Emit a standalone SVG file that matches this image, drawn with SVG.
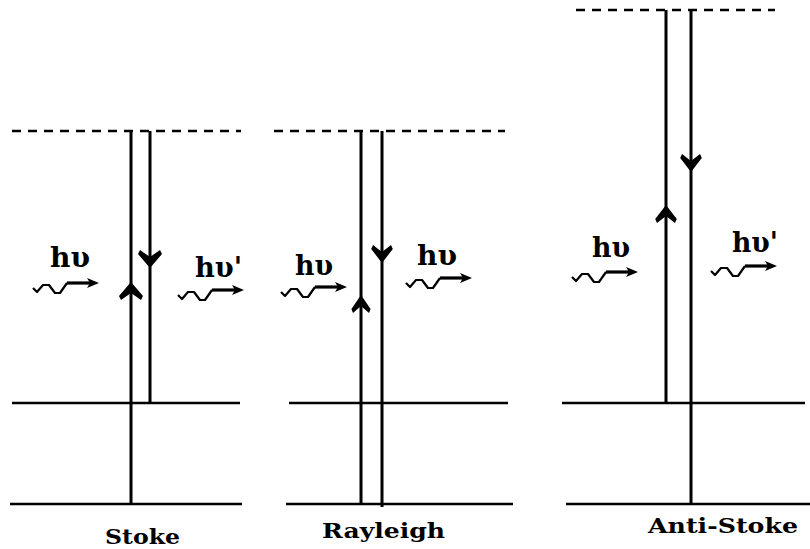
<svg xmlns="http://www.w3.org/2000/svg" xmlns:xlink="http://www.w3.org/1999/xlink" width="810" height="549" viewBox="0 0 810 549">
<style>
.lvl{stroke:#000;stroke-width:2.5;fill:none}
.dash{stroke:#000;stroke-width:2.5;stroke-dasharray:9,7;fill:none}
.tr{stroke:#000;stroke-width:3;fill:none}
.wv{stroke:#000;stroke-width:2.2;fill:none;stroke-linejoin:round}
.st{stroke:#000;stroke-width:3.2;fill:none}
.hd{fill:#000}
.sym{font-family:"DejaVu Serif","Liberation Serif",serif;font-weight:bold;font-size:27px;fill:#000}
.lab{font-family:"DejaVu Serif","Liberation Serif",serif;font-weight:bold;font-size:20px;fill:#000}
</style>
<defs>
<path id="ah" d="M0,0 L-12,14 L-10,18 L0,11 L10,18 L12,14 Z"/>
<g id="wavy">
<path class="wv" d="M0,0 L4,4 L10,-3 L16,-3 L22,5 L27,5 L34,-5"/>
<line class="st" x1="34" y1="-5" x2="58" y2="-5"/>
<polygon class="hd" points="66,-5 54,-10 57,-5 54,0"/>
</g>
</defs>
<rect width="810" height="549" fill="#fff"/>

<g id="stoke">
<line class="dash" x1="12" y1="131" x2="241" y2="131"/>
<line class="lvl" x1="12" y1="403" x2="240" y2="403"/>
<line class="lvl" x1="10" y1="504" x2="242" y2="504"/>
<text class="sym" x="50" y="267" textLength="40" lengthAdjust="spacingAndGlyphs">hυ</text>
<text class="sym" x="195" y="277" textLength="47" lengthAdjust="spacingAndGlyphs">hυ'</text>
<text class="lab" x="105" y="544" textLength="75" lengthAdjust="spacingAndGlyphs">Stoke</text>
</g>

<g id="rayleigh">
<line class="dash" x1="274" y1="131" x2="505" y2="131"/>
<line class="lvl" x1="289" y1="403" x2="508" y2="403"/>
<line class="lvl" x1="286" y1="504" x2="513" y2="504"/>
<text class="sym" x="295" y="275" textLength="38" lengthAdjust="spacingAndGlyphs">hυ</text>
<text class="sym" x="417" y="265" textLength="40" lengthAdjust="spacingAndGlyphs">hυ</text>
<text class="lab" x="322" y="538" textLength="123" lengthAdjust="spacingAndGlyphs">Rayleigh</text>
</g>

<g id="antistoke">
<line class="dash" x1="576" y1="10" x2="775" y2="10"/>
<line class="lvl" x1="562" y1="403" x2="805" y2="403"/>
<line class="lvl" x1="566" y1="504" x2="810" y2="504"/>
<text class="sym" x="592" y="257" textLength="38" lengthAdjust="spacingAndGlyphs">hυ</text>
<text class="sym" x="732" y="252" textLength="46" lengthAdjust="spacingAndGlyphs">hυ'</text>
<text class="lab" x="648" y="533" textLength="150" lengthAdjust="spacingAndGlyphs">Anti-Stoke</text>
</g>

<g id="connectors">
<line class="tr" x1="131" y1="131" x2="131" y2="504"/>
<line class="tr" x1="150" y1="131" x2="150" y2="403"/>
<use xlink:href="#ah" class="hd" transform="translate(131,282)"/>
<use xlink:href="#ah" class="hd" transform="translate(150,268) rotate(180)"/>
<use xlink:href="#wavy" transform="translate(33,288)"/>
<use xlink:href="#wavy" transform="translate(178,295)"/>

<line class="tr" x1="361" y1="131" x2="361" y2="504"/>
<line class="tr" x1="382" y1="131" x2="382" y2="507"/>
<use xlink:href="#ah" class="hd" transform="translate(361,295) scale(0.8,1)"/>
<use xlink:href="#ah" class="hd" transform="translate(382,263) rotate(180) scale(0.9,1)"/>
<use xlink:href="#wavy" transform="translate(281,292)"/>
<use xlink:href="#wavy" transform="translate(406,283)"/>

<line class="tr" x1="666" y1="10" x2="666" y2="403"/>
<line class="tr" x1="691" y1="10" x2="691" y2="504"/>
<use xlink:href="#ah" class="hd" transform="translate(666,205) scale(0.9,1)"/>
<use xlink:href="#ah" class="hd" transform="translate(691,172) rotate(180) scale(0.9,1)"/>
<use xlink:href="#wavy" transform="translate(572,277)"/>
<use xlink:href="#wavy" transform="translate(711,271)"/>
</g>
</svg>
